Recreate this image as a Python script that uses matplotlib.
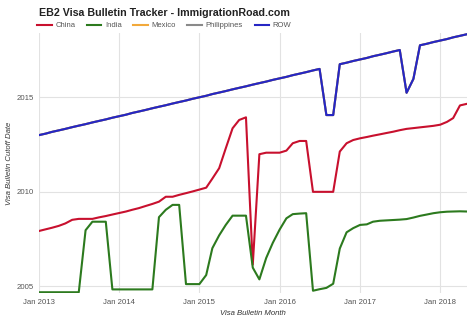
import pandas as pd
import matplotlib.pyplot as plt
import matplotlib.dates as mdates

plt.rcParams['font.family'] = ['Liberation Sans', 'DejaVu Sans']

# bulletin months, Jan 2013 .. May 2018
months = pd.date_range(start='2013-01-01', end='2018-05-01', freq='MS')

# cutoff dates as fractional years
china = [2007.93, 2008.02, 2008.10, 2008.20, 2008.33, 2008.52, 2008.57, 2008.57,
         2008.57, 2008.65, 2008.72, 2008.80, 2008.88, 2008.96, 2009.05, 2009.14,
         2009.25, 2009.36, 2009.48, 2009.74, 2009.74, 2009.84, 2009.93, 2010.02,
         2010.12, 2010.22, 2010.70, 2011.25, 2012.30, 2013.36, 2013.80, 2013.94,
         2006.15, 2011.99, 2012.07, 2012.07, 2012.07, 2012.18, 2012.57, 2012.69,
         2012.69, 2010.00, 2010.00, 2010.00, 2010.00, 2012.13, 2012.57, 2012.74,
         2012.83, 2012.90, 2012.97, 2013.04, 2013.11, 2013.18, 2013.26, 2013.33,
         2013.37, 2013.41, 2013.45, 2013.49, 2013.55, 2013.70, 2013.90, 2014.57,
         2014.65]
india = [2004.69, 2004.69, 2004.69, 2004.69, 2004.69, 2004.69, 2004.69, 2007.97,
         2008.42, 2008.42, 2008.42, 2004.84, 2004.84, 2004.84, 2004.84, 2004.84,
         2004.84, 2004.84, 2008.66, 2009.05, 2009.31, 2009.31, 2005.12, 2005.12,
         2005.12, 2005.60, 2007.02, 2007.70, 2008.25, 2008.74, 2008.74, 2008.74,
         2005.99, 2005.37, 2006.50, 2007.30, 2008.00, 2008.60, 2008.82, 2008.85,
         2008.87, 2004.77, 2004.85, 2004.92, 2005.14, 2007.00, 2007.86, 2008.08,
         2008.25, 2008.28, 2008.42, 2008.47, 2008.49, 2008.51, 2008.53, 2008.56,
         2008.64, 2008.73, 2008.80, 2008.87, 2008.92, 2008.95, 2008.96, 2008.97,
         2008.96]
row = [2013.00, 2013.08, 2013.17, 2013.25, 2013.33, 2013.42, 2013.50, 2013.58,
       2013.67, 2013.75, 2013.83, 2013.92, 2014.00, 2014.08, 2014.17, 2014.25,
       2014.33, 2014.42, 2014.50, 2014.58, 2014.67, 2014.75, 2014.83, 2014.92,
       2015.00, 2015.08, 2015.17, 2015.25, 2015.33, 2015.42, 2015.50, 2015.58,
       2015.67, 2015.75, 2015.83, 2015.92, 2016.00, 2016.08, 2016.17, 2016.25,
       2016.33, 2016.42, 2016.50, 2014.06, 2014.06, 2016.75, 2016.83, 2016.92,
       2017.00, 2017.08, 2017.17, 2017.25, 2017.33, 2017.42, 2017.50, 2015.24,
       2015.97, 2017.75, 2017.83, 2017.92, 2018.00, 2018.08, 2018.17, 2018.25,
       2018.33]
# Mexico and Philippines follow the ROW dates (hidden underneath it)
mexico = row
philippines = row

series = [('China', china, '#c8102e'),
          ('India', india, '#2c7a1e'),
          ('Mexico', mexico, '#f2a93b'),
          ('Philippines', philippines, '#8a8a8a'),
          ('ROW', row, '#2626c4')]

W, H = 474, 327
fig = plt.figure(figsize=(W / 100, H / 100), dpi=100)
ax = fig.add_axes([39 / W, (H - 293) / H, (467 - 39) / W, (293 - 33) / H])

for name, vals, color in series:
    ax.plot(months, vals, color=color, linewidth=1.5, label=name)

ax.set_xlim(pd.Timestamp('2013-01-01'), pd.Timestamp('2018-05-03'))
ax.set_ylim(2004.65, 2018.4)
ax.set_yticks([2005, 2010, 2015])
ax.xaxis.set_major_locator(mdates.YearLocator())
ax.xaxis.set_major_formatter(mdates.DateFormatter('%b %Y'))

ax.grid(True, color='#e2e2e2', linewidth=0.8)
ax.set_axisbelow(True)
for s in ax.spines.values():
    s.set_visible(False)
ax.tick_params(length=0, labelsize=5.6, colors='#555555', pad=4)

ax.set_xlabel('Visa Bulletin Month', fontsize=5.6, style='italic', color='#333333', labelpad=3)
ax.set_ylabel('Visa Bulletin Cutoff Date', fontsize=5.6, style='italic', color='#333333', labelpad=2)

fig.text(39 / W, 1 - 12.7 / H, 'EB2 Visa Bulletin Tracker - ImmigrationRoad.com',
         fontsize=7.7, fontweight='bold', color='#222222', va='center', ha='left')

fig.legend(loc='center left', bbox_to_anchor=(37 / W, 1 - 25.7 / H), ncol=5, frameon=False,
           fontsize=5.5, handlelength=1.9, handletextpad=0.5, columnspacing=1.5,
           borderpad=0, borderaxespad=0, labelcolor='#555555')

plt.savefig('out.png', dpi=100)
